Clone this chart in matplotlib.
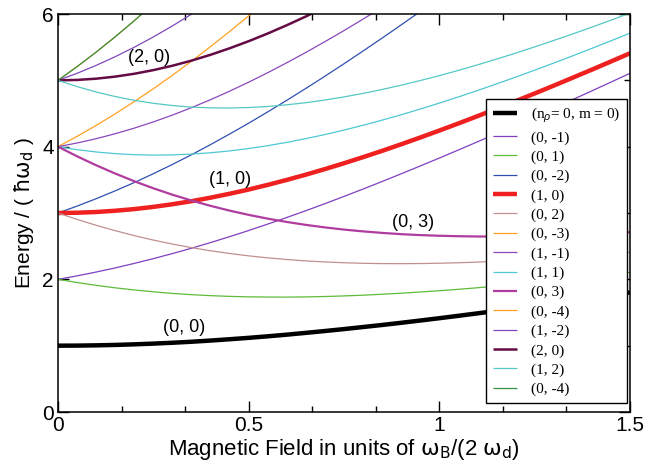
import matplotlib
matplotlib.use("Agg")
import matplotlib.pyplot as plt
from matplotlib.ticker import MultipleLocator, AutoMinorLocator

plt.rcParams['font.family'] = ['Liberation Sans', 'DejaVu Sans']
plt.rcParams['mathtext.fontset'] = 'custom'
plt.rcParams['mathtext.rm'] = 'Liberation Sans'
plt.rcParams['mathtext.it'] = 'Liberation Sans:italic'

# magnetic field grid (units of omega_B / (2 omega_d))
field = [0.00, 0.05, 0.10, 0.15, 0.20, 0.25, 0.30, 0.35, 0.40, 0.45, 0.50,
         0.55, 0.60, 0.65, 0.70, 0.75, 0.80, 0.85, 0.90, 0.95, 1.00,
         1.05, 1.10, 1.15, 1.20, 1.25, 1.30, 1.35, 1.40, 1.45, 1.50]

# energies (units of hbar omega_d)
e_0_0 = [1.000, 1.001, 1.005, 1.011, 1.020, 1.031, 1.044, 1.059, 1.077, 1.097, 1.118,
         1.141, 1.166, 1.193, 1.221, 1.250, 1.281, 1.312, 1.345, 1.379, 1.414,
         1.450, 1.487, 1.524, 1.562, 1.601, 1.640, 1.680, 1.720, 1.761, 1.803]
e_0_m1 = [2.000, 2.052, 2.110, 2.172, 2.240, 2.312, 2.388, 2.469, 2.554, 2.643, 2.736,
          2.833, 2.932, 3.035, 3.141, 3.250, 3.361, 3.475, 3.591, 3.709, 3.828,
          3.950, 4.073, 4.198, 4.324, 4.452, 4.580, 4.710, 4.841, 4.973, 5.106]
e_0_p1 = [2.000, 1.952, 1.910, 1.872, 1.840, 1.812, 1.788, 1.769, 1.754, 1.743, 1.736,
          1.733, 1.732, 1.735, 1.741, 1.750, 1.761, 1.775, 1.791, 1.809, 1.828,
          1.850, 1.873, 1.898, 1.924, 1.952, 1.980, 2.010, 2.041, 2.073, 2.106]
e_0_m2 = [3.000, 3.104, 3.215, 3.334, 3.459, 3.592, 3.732, 3.878, 4.031, 4.190, 4.354,
          4.524, 4.699, 4.878, 5.062, 5.250, 5.442, 5.637, 5.836, 6.038]
e_1_0 = [3.000, 3.004, 3.015, 3.034, 3.059, 3.092, 3.132, 3.178, 3.231, 3.290, 3.354,
         3.424, 3.499, 3.578, 3.662, 3.750, 3.842, 3.937, 4.036, 4.138, 4.243,
         4.350, 4.460, 4.572, 4.686, 4.802, 4.920, 5.040, 5.161, 5.284, 5.408]
e_0_p2 = [3.000, 2.904, 2.815, 2.734, 2.659, 2.592, 2.532, 2.478, 2.431, 2.390, 2.354,
          2.324, 2.299, 2.278, 2.262, 2.250, 2.242, 2.237, 2.236, 2.238, 2.243,
          2.250, 2.260, 2.272, 2.286, 2.302, 2.320, 2.340, 2.361, 2.384, 2.408]
e_0_m3 = [4.000, 4.155, 4.320, 4.495, 4.679, 4.873, 5.076, 5.288, 5.508, 5.736, 5.972, 6.215]
e_1_m1 = [4.000, 4.055, 4.120, 4.195, 4.279, 4.373, 4.476, 4.588, 4.708, 4.836, 4.972,
          5.115, 5.265, 5.421, 5.583, 5.750, 5.923, 6.100]
e_1_p1 = [4.000, 3.955, 3.920, 3.895, 3.879, 3.873, 3.876, 3.888, 3.908, 3.936, 3.972,
          4.015, 4.065, 4.121, 4.183, 4.250, 4.323, 4.400, 4.481, 4.567, 4.657,
          4.750, 4.846, 4.946, 5.048, 5.153, 5.260, 5.370, 5.482, 5.596, 5.711]
e_0_p3 = [4.000, 3.855, 3.720, 3.595, 3.479, 3.373, 3.276, 3.188, 3.108, 3.036, 2.972,
          2.915, 2.865, 2.821, 2.783, 2.750, 2.723, 2.700, 2.681, 2.667, 2.657,
          2.650, 2.646, 2.646, 2.648, 2.653, 2.660, 2.670, 2.682, 2.696, 2.711]
e_0_m4a = [5.000, 5.206, 5.425, 5.656, 5.899, 6.154]
e_1_m2 = [5.000, 5.106, 5.225, 5.356, 5.499, 5.654, 5.820, 5.997, 6.185]
e_2_0 = [5.000, 5.006, 5.025, 5.056, 5.099, 5.154, 5.220, 5.297, 5.385, 5.483, 5.590,
         5.706, 5.831, 5.963, 6.103]
e_1_p2 = [5.000, 4.906, 4.825, 4.756, 4.699, 4.654, 4.620, 4.597, 4.585, 4.583, 4.590,
          4.606, 4.631, 4.663, 4.703, 4.750, 4.803, 4.862, 4.927, 4.997, 5.071,
          5.150, 5.233, 5.320, 5.410, 5.504, 5.601, 5.700, 5.802, 5.907, 6.014]
e_0_m4b = [5.000, 5.206, 5.425, 5.656, 5.899, 6.154]

legend_labels = [r"(n$_\rho$= 0, m = 0)", "(0, -1)", "(0, 1)", "(0, -2)", "(1, 0)", "(0, 2)",
                 "(0, -3)", "(1, -1)", "(1, 1)", "(0, 3)", "(0, -4)", "(1, -2)", "(2, 0)",
                 "(1, 2)", "(0, -4)"]
series = [e_0_0, e_0_m1, e_0_p1, e_0_m2, e_1_0, e_0_p2, e_0_m3, e_1_m1, e_1_p1,
          e_0_p3, e_0_m4a, e_1_m2, e_2_0, e_1_p2, e_0_m4b]
colors = ['#000000', '#7F3FBF', '#5DBB3A', '#3050B0', '#EE2020', '#C09090',
          '#FFA020', '#8A48BC', '#4FC8D4', '#B03CA0', '#FFA020', '#8048BC',
          '#640A44', '#55C8C4', '#359045']
widths = [3.2, 0.9, 0.9, 0.9, 3.2, 0.9, 0.9, 0.9, 0.9, 1.6, 0.9, 0.9, 1.8, 0.9, 0.9]

# in-plot state labels
label_texts = ["(0, 0)", "(1, 0)", "(2, 0)", "(0, 3)"]
label_x = [0.33, 0.45, 0.24, 0.93]
label_y = [1.27, 3.50, 5.34, 2.86]

fig = plt.figure(figsize=(6.47, 4.70), dpi=100)
ax = fig.add_axes([0.0896, 0.1234, 0.8841, 0.8468])

for ys, c, w, lab in zip(series, colors, widths, legend_labels):
    ax.plot(field[:len(ys)], ys, color=c, lw=w, label=lab, solid_capstyle='butt')

for t, x, y in zip(label_texts, label_x, label_y):
    ax.text(x, y, t, fontsize=13, ha='center', va='center')

ax.set_xlim(0, 1.5)
ax.set_ylim(0, 6)
ax.xaxis.set_major_locator(MultipleLocator(0.5))
ax.xaxis.set_minor_locator(AutoMinorLocator(3))
ax.yaxis.set_major_locator(MultipleLocator(2))
ax.yaxis.set_minor_locator(AutoMinorLocator(2))
ax.set_xticks([0, 0.5, 1, 1.5])
ax.set_xticklabels(["0", "0.5", "1", "1.5"])
ax.set_yticks([0, 2, 4, 6])
ax.set_yticklabels(["0", "2", "4", "6"])
ax.tick_params(which='both', direction='in', top=True, right=True, width=1.0)
ax.tick_params(which='major', length=8, labelsize=15, pad=3)
ax.tick_params(which='minor', length=4.5)
for s in ax.spines.values():
    s.set_linewidth(1.1)

ax.set_xlabel(r"Magnetic Field in units of $\mathrm{\omega_B}$/(2 $\mathrm{\omega_d}$)",
              fontsize=16, labelpad=1, math_fontfamily='dejavusans')
ax.set_ylabel(r"Energy / ( $\mathrm{\hbar\omega_d}$ )", fontsize=15, labelpad=4,
              math_fontfamily='dejavusans')

leg = ax.legend(loc='upper right', bbox_to_anchor=(627/647, 1 - 99/470),
                bbox_transform=fig.transFigure, frameon=True, fancybox=False,
                edgecolor='black', framealpha=1, borderpad=0.45,
                prop={'family': ['Liberation Serif', 'DejaVu Serif'], 'size': 11},
                handlelength=1.6, handletextpad=0.9, labelspacing=0.36, borderaxespad=0)
leg.get_frame().set_linewidth(1.0)

fig.savefig("out.png", dpi=100)
